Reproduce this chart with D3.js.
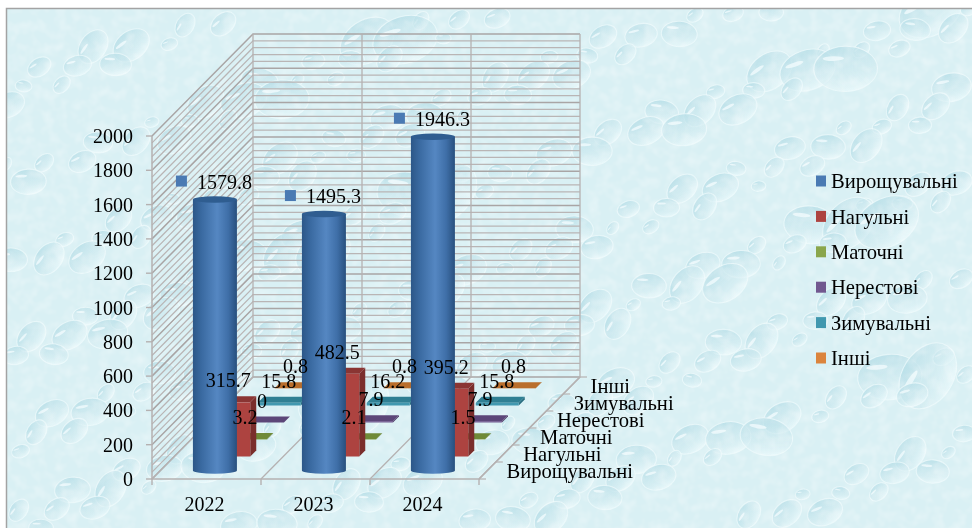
<!DOCTYPE html>
<html>
<head>
<meta charset="utf-8">
<script src="https://d3js.org/d3.v7.min.js"></script>
<style>
    html, body { margin: 0; padding: 0; background: #fff; }
    svg { display: block; }
    text { font-family: "Liberation Serif", serif; font-size: 20px; fill: #000; }
    text.name { font-size: 20.6px; }
</style>
</head>
<body>
<svg id="chart" width="972" height="528"></svg>
<script>
var years = ['2022', '2023', '2024'];
var seriesNames = ['Вирощувальні', 'Нагульні', 'Маточні', 'Нерестові', 'Зимувальні', 'Інші'];
var seriesColors = ['#4a7ab3', '#ad4340', '#8aa64c', '#71588f', '#4198af', '#db843d'];
var sideColors = ['#2c5a8c', '#7a2e2c', '#5d7530', '#4e3b66', '#2a6e80', '#9c5a24'];
var topColors = ['#2f5d90', '#8a3533', '#6f8a38', '#5c4678', '#2f7f93', '#b96e2c'];

var vyroshchuvalni = [1579.8, 1495.3, 1946.3];
var nahulni = [315.7, 482.5, 395.2];
var matochni = [3.2, 2.1, 1.5];
var nerestovi = [0, 7.9, 7.9];
var zymuvalni = [15.8, 16.2, 15.8];
var inshi = [0.8, 0.8, 0.8];
var seriesValues = [vyroshchuvalni, nahulni, matochni, nerestovi, zymuvalni, inshi];

var yTicks = [0, 200, 400, 600, 800, 1000, 1200, 1400, 1600, 1800, 2000];
var yMinor = d3.range(0, 2001, 40);

var svg = d3.select('#chart');
var defs = svg.append('defs');

// Floor corners and how far the box goes back
var xLeft = 152, xRight = 479, yFloor = 479, yTop = 136, depthX = 101, depthY = 102;

var x = d3.scaleBand().domain(d3.range(years.length)).range([xLeft, xRight]);
var y = d3.scaleLinear().domain([0, 2000]).range([yFloor, yTop]);
var z = d3.scaleBand().domain(d3.range(seriesNames.length)).range([0, 1]);

// Screen position of value v at floor position px, depth fraction d
function proj(px, v, d)
{
    return [px + d * depthX, y(v) - d * depthY];
}

function poly(pts)
{
    return pts.map(function(p){ return p.join(','); }).join(' ');
}

//--------------------------------------------------------------
// Background: pale base, soft noise, then drops placed on a golden ratio walk

svg.append('clipPath').attr('id', 'pane').append('rect')
    .attr('x', 6).attr('y', 8).attr('width', 966).attr('height', 520);

var f = defs.append('filter').attr('id', 'mottle')
    .attr('x', 0).attr('y', 0).attr('width', 1).attr('height', 1)
    .attr('color-interpolation-filters', 'sRGB');
f.append('feTurbulence').attr('type', 'fractalNoise').attr('baseFrequency', 0.09)
    .attr('numOctaves', 2).attr('seed', 5).attr('result', 'n');
f.append('feColorMatrix').attr('in', 'n').attr('type', 'matrix')
    .attr('values', '0 0 0 0 1  0 0 0 0 1  0 0 0 0 1  1.8 0 0 0 -0.68');

defs.append('filter').attr('id', 'soft').append('feGaussianBlur').attr('stdDeviation', 0.7);

var dropFill = defs.append('linearGradient').attr('id', 'drop')
    .attr('x1', 0.3).attr('y1', 0).attr('x2', 0.6).attr('y2', 1);
[[0, '#b7deE7', 0.9], [0.6, '#cfeaf0', 0.55], [1, '#ecfafc', 0.8]].forEach(function(s)
{
    dropFill.append('stop').attr('offset', s[0]).attr('stop-color', s[1]).attr('stop-opacity', s[2]);
});

var back = svg.append('g').attr('clip-path', 'url(#pane)');
back.append('rect').attr('x', 6).attr('y', 8).attr('width', 966).attr('height', 520).attr('fill', '#d9f0f4');

var drops = d3.range(300).map(function(i)
{
    return {
        cx: 6 + ((i * 0.618034) % 1) * 966,
        cy: 8 + ((i * 0.754878 + 0.3) % 1) * 520,
        r: 6 + ((i * 0.569840) % 1) * ((i % 6) ? 11 : 24),
        a: -60 + ((i * 0.414214) % 1) * 70
    };
});

var dropLayer = back.append('g').attr('filter', 'url(#soft)');
var dropG = dropLayer.selectAll('g.dr').data(drops).enter().append('g')
    .attr('transform', function(d){ return 'translate(' + d.cx + ',' + d.cy + ') rotate(' + d.a + ')'; });
dropG.append('ellipse').attr('rx', function(d){ return d.r * 1.2; }).attr('ry', function(d){ return d.r * 0.85; })
    .attr('fill', 'url(#drop)').attr('stroke', '#effbfc').attr('stroke-opacity', 0.7).attr('stroke-width', 1.1);
dropG.append('ellipse').attr('cx', function(d){ return -d.r * 0.45; }).attr('cy', function(d){ return -d.r * 0.4; })
    .attr('rx', function(d){ return d.r * 0.4; }).attr('ry', function(d){ return d.r * 0.09; })
    .attr('fill', '#f6feff').attr('fill-opacity', 0.7);

back.append('rect').attr('x', 6).attr('y', 8).attr('width', 966).attr('height', 520)
    .attr('fill', '#fff').attr('filter', 'url(#mottle)').attr('opacity', 0.35);

svg.append('path').attr('d', 'M6.5,528V8.5H972').attr('fill', 'none')
    .attr('stroke', '#a3a3a3').attr('stroke-width', 1.5);

//--------------------------------------------------------------
// Walls and grid

var grid = svg.append('g').attr('fill', 'none').attr('stroke', '#b5b1b1');

grid.selectAll('.minor').data(yMinor).enter().append('path')
    .attr('d', function(v)
    {
        var a = proj(xLeft, v, 0), b = proj(xLeft, v, 1), c = proj(xRight, v, 1);
        return 'M' + a + 'L' + b + 'L' + c;
    })
    .attr('stroke-width', function(v){ return v % 200 ? 1.25 : 1.5; })
    .attr('stroke', function(v){ return v % 200 ? '#b9b5b5' : '#a9a5a5'; });

years.concat(['']).forEach(function(c, i)
{
    var px = xLeft + i * x.bandwidth();
    var a = proj(px, 0, 0), b = proj(px, 0, 1), t = proj(px, 2000, 1);
    grid.append('path').attr('d', 'M' + a + 'L' + b + 'L' + t).attr('stroke-width', 1.3);
    grid.append('path').attr('d', 'M' + a + 'v6').attr('stroke-width', 1.4);
});

// Front edges of the floor and the value axis
grid.append('path').attr('d', 'M' + xLeft + ',' + yTop + 'V' + yFloor + 'H' + xRight + 'L' + proj(xRight, 0, 1))
    .attr('stroke-width', 1.5);

grid.selectAll('.ytick').data(yTicks).enter().append('path')
    .attr('d', function(v){ return 'M' + (xLeft - 6) + ',' + y(v) + 'H' + xLeft; })
    .attr('stroke-width', 1.4);

// Depth axis ticks
d3.range(seriesNames.length + 1).forEach(function(i)
{
    var p = proj(xRight, 0, i / seriesNames.length);
    grid.append('path').attr('d', 'M' + p + 'h7').attr('stroke-width', 1.2);
});

//--------------------------------------------------------------
// Bars, back series first

var cg = defs.append('linearGradient').attr('id', 'cyl');
[[0, '#2c5788'], [0.2, '#3a6aa1'], [0.55, '#5587c2'], [0.8, '#3f6fa8'], [1, '#28507e']].forEach(function(s)
{
    cg.append('stop').attr('offset', s[0]).attr('stop-color', s[1]);
});

var hw = 21.5, box = 3, cylHw = 22, cylRy = 3.2;
var bars = svg.append('g');

function barCenter(c, s)
{
    return proj(x(c) + x.bandwidth() / 2, 0, z(s) + z.bandwidth() / 2);
}

d3.range(seriesNames.length - 1, -1, -1).forEach(function(s)
{
    years.forEach(function(yr, c)
    {
        var o = barCenter(c, s);
        var v = seriesValues[s][c];
        var h = yFloor - y(v);
        var g = bars.append('g');

        if (s == 0)
        {
            g.append('path')
                .attr('d', 'M' + (o[0] - cylHw) + ',' + (o[1] - h) + 'V' + o[1]
                    + 'A' + cylHw + ',' + cylRy + ' 0 0 0 ' + (o[0] + cylHw) + ',' + o[1]
                    + 'V' + (o[1] - h) + 'Z')
                .attr('fill', 'url(#cyl)');
            g.append('ellipse').attr('cx', o[0]).attr('cy', o[1] - h)
                .attr('rx', cylHw).attr('ry', cylRy).attr('fill', topColors[0]);
            return;
        }

        var fx = o[0] - box - hw, fy = o[1] + box;
        // right side, top, front
        g.append('polygon').attr('fill', sideColors[s]).attr('points', poly([
            [fx + 2 * hw, fy], [fx + 2 * hw + 2 * box, fy - 2 * box],
            [fx + 2 * hw + 2 * box, fy - 2 * box - h], [fx + 2 * hw, fy - h]]));
        g.append('polygon').attr('fill', topColors[s]).attr('points', poly([
            [fx, fy - h], [fx + 2 * box, fy - h - 2 * box],
            [fx + 2 * hw + 2 * box, fy - h - 2 * box], [fx + 2 * hw, fy - h]]));
        g.append('rect').attr('x', fx).attr('y', fy - h).attr('width', 2 * hw).attr('height', h)
            .attr('fill', seriesColors[s]);
    });
});

//--------------------------------------------------------------
// Data labels

var labels = svg.append('g');

seriesValues.forEach(function(vals, s)
{
    vals.forEach(function(v, c)
    {
        var o = barCenter(c, s);
        var ty = o[1] - (yFloor - y(v)) - (s == 0 ? 18 : 19);

        if (s == 0)
        {
            labels.append('rect').attr('x', o[0] - 39).attr('y', ty - 6).attr('width', 11).attr('height', 11)
                .attr('fill', seriesColors[0]);
            labels.append('text').attr('x', o[0] - 18).attr('y', ty).attr('dy', '.35em').text(v.toFixed(1));
            return;
        }

        labels.append('text').attr('x', o[0] - 3.5).attr('y', ty).attr('dy', '.35em')
            .attr('text-anchor', 'middle').text(v);
    });
});

//--------------------------------------------------------------
// Axis text

svg.append('g').selectAll('text').data(yTicks).enter().append('text')
    .attr('x', 133).attr('y', function(v){ return y(v); }).attr('dy', '.35em')
    .attr('text-anchor', 'end').text(function(v){ return v; });

svg.append('g').selectAll('text').data(years).enter().append('text')
    .attr('x', function(d, i){ return x(i) + x.bandwidth() / 2 - 2; }).attr('y', 504).attr('dy', '.35em')
    .attr('text-anchor', 'middle').text(function(d){ return d; });

svg.append('g').selectAll('text').data(seriesNames).enter().append('text')
    .attr('class', 'name')
    .attr('x', function(d, i){ return proj(xRight, 0, z(i) + z.bandwidth() / 2)[0] + 19; })
    .attr('y', function(d, i){ return proj(xRight, 0, z(i) + z.bandwidth() / 2)[1]; })
    .attr('dy', '.35em')
    .text(function(d){ return d; });

//--------------------------------------------------------------
// Legend

var legendY = d3.scalePoint().domain(d3.range(seriesNames.length)).range([181, 358]);
var legend = svg.append('g').selectAll('g').data(seriesNames).enter().append('g')
    .attr('transform', function(d, i){ return 'translate(816,' + legendY(i) + ')'; });
legend.append('rect').attr('y', -5.5).attr('width', 10).attr('height', 11)
    .attr('fill', function(d, i){ return seriesColors[i]; });
legend.append('text').attr('class', 'name').attr('x', 15).attr('dy', '.35em').text(function(d){ return d; });
</script>
</body>
</html>
